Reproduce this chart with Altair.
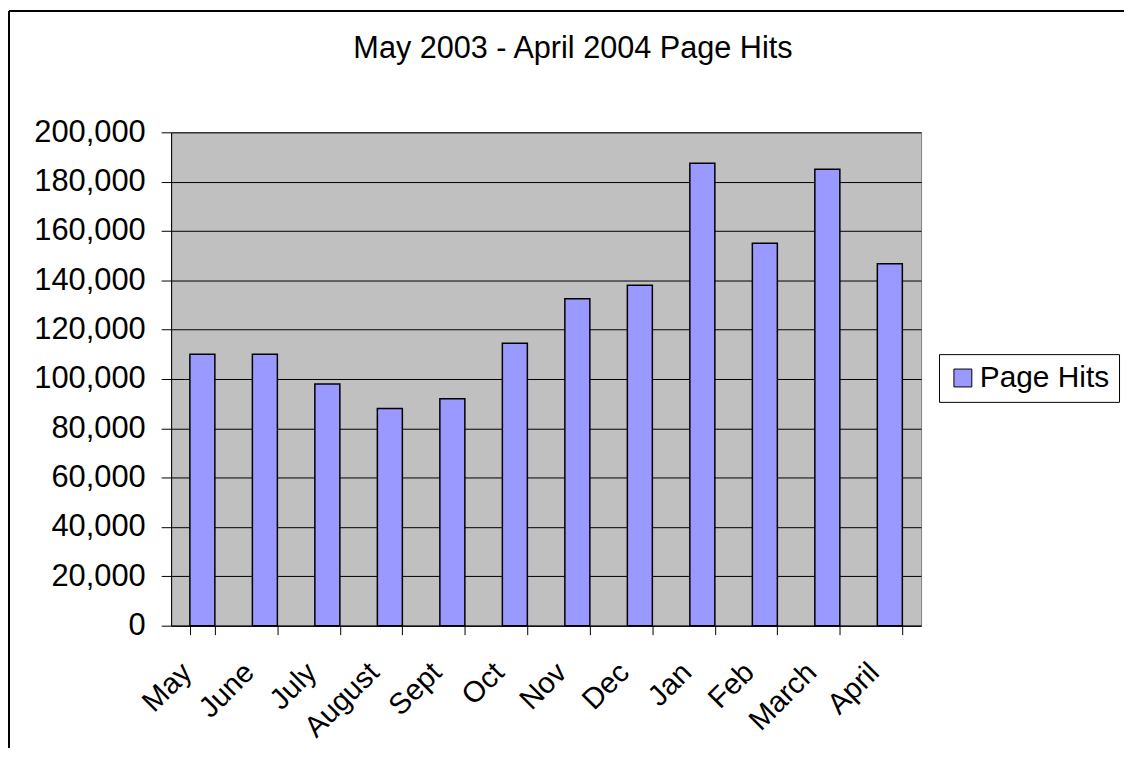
import altair as alt
import pandas as pd

months = ["May", "June", "July", "August", "Sept", "Oct", "Nov", "Dec", "Jan", "Feb", "March", "April"]
hits = [110000, 110000, 98000, 88000, 92000, 114500, 132500, 138000, 187500, 155000, 185000, 146700]
series = ["Page Hits"] * len(months)
y_ticks = [0, 20000, 40000, 60000, 80000, 100000, 120000, 140000, 160000, 180000, 200000]
title_text = ["May 2003 - April 2004 Page Hits"]

df = pd.DataFrame({"month": months, "hits": hits, "series": series})

W, H = 754, 496
FONT = "Liberation Sans"

bars = alt.Chart(df).mark_bar(stroke="black", strokeWidth=1.5).encode(
    x=alt.X(
        "month:N", sort=months,
        scale=alt.Scale(paddingInner=0.6, paddingOuter=0.3),
        axis=alt.Axis(
            title=None, labelAngle=-45, labelAlign="right", labelBaseline="middle",
            labelFontSize=29.5, labelFont=FONT, labelColor="black",
            labelPadding=33, labelOffset=-16, tickBand="extent", tickSize=9,
            tickColor="black", domainColor="black", grid=False, labelOverlap=False,
        ),
    ),
    y=alt.Y(
        "hits:Q",
        scale=alt.Scale(domain=[0, 200000], nice=False),
        axis=alt.Axis(
            title=None, values=y_ticks, format=",.0f", labelFontSize=31, labelFont=FONT,
            labelColor="black", labelPadding=16, tickSize=10, tickColor="black",
            domainColor="black", gridColor="black", gridWidth=1, labelFlush=False,
            labelOverlap=False,
        ),
    ),
    color=alt.Color(
        "series:N",
        scale=alt.Scale(domain=series[:1], range=["#9999FF"]),
        legend=alt.Legend(
            title=None, orient="none", legendX=772, legendY=223, padding=9,
            symbolType="square", symbolSize=324, symbolStrokeColor="black",
            symbolStrokeWidth=1, symbolOffset=0, labelOffset=2, labelFontSize=30,
            labelFont=FONT, labelColor="black", labelLimit=300,
            strokeColor="black", fillColor="white",
        ),
    ),
)

title = alt.Chart(pd.DataFrame({"t": title_text})).mark_text(
    fontSize=30.8, font=FONT, align="center", baseline="alphabetic", color="black"
).encode(text="t:N", x=alt.value(404), y=alt.value(-75))

frame_df = pd.DataFrame({"k": [0]})
left_edge = alt.Chart(frame_df).mark_rule(color="black", strokeWidth=2).encode(
    x=alt.value(-163), y=alt.value(-122), y2=alt.value(640)
)
top_edge = alt.Chart(frame_df).mark_rule(color="black", strokeWidth=2).encode(
    x=alt.value(-163), x2=alt.value(1000), y=alt.value(-122)
)

chart = alt.layer(bars, title, left_edge, top_edge).properties(
    width=W, height=H, background="white",
    autosize=alt.AutoSizeParams(type="none"),
    padding={"left": 164, "top": 123, "right": 204, "bottom": 121},
).configure_view(fill="#C0C0C0", stroke="#808080", strokeWidth=1)

chart.save("out.html", embed_options={"renderer": "svg", "actions": False})
